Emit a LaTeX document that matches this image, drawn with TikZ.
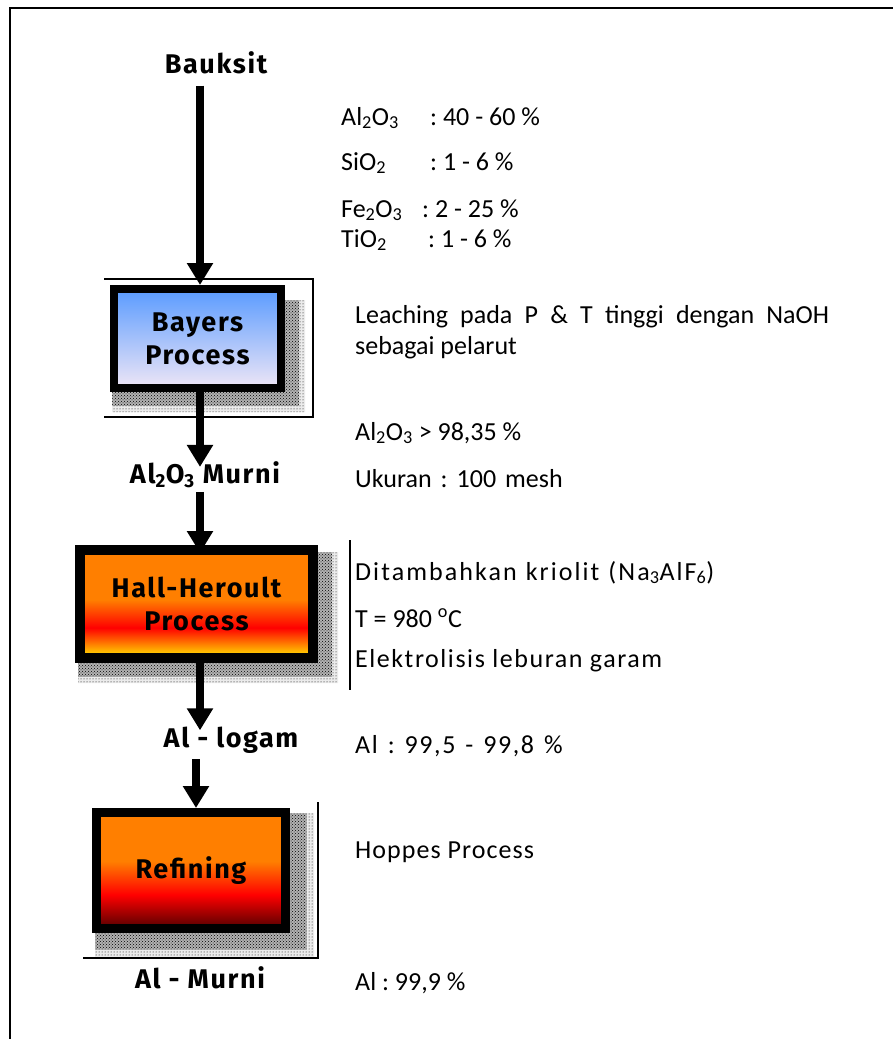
\documentclass[tikz,border=0pt]{standalone}
\usepackage{fontspec}
\setmainfont{Carlito}
\newfontfamily\cwA{Carlito}[LetterSpace=8]
\newfontfamily\cwB{Carlito}[LetterSpace=6]
\newfontfamily\cwC{Carlito}[LetterSpace=4]
\newfontfamily\labf{Fira Sans}[LetterSpace=6]
\usetikzlibrary{arrows.meta,patterns}
\frenchspacing
\definecolor{orng}{HTML}{FF7F00}
\definecolor{bluetop}{HTML}{5A9BFF}
\definecolor{bluebot}{HTML}{EEE6F6}
\definecolor{ylw}{HTML}{FFCC00}
\definecolor{dred}{HTML}{6A0000}
\pgfdeclareverticalshading{hallshade}{100bp}{color(0bp)=(ylw); color(27bp)=(ylw); color(39bp)=(red); color(52bp)=(orng); color(100bp)=(orng)}
\pgfdeclareverticalshading{refshade}{100bp}{color(0bp)=(dred); color(27bp)=(dred); color(39.5bp)=(red); color(54bp)=(orng); color(100bp)=(orng)}
\newcommand\mkshadow[5]{%
  \fill[black!30] (#1,#2) rectangle ({#3+#5*0.7},{#4+#5*0.7});
  \fill[pattern=crosshatch dots, pattern color=black] (#1,#2) rectangle ({#3+#5*0.7},{#4+#5*0.7});
  \fill[black!8, even odd rule] (#1,#2) rectangle ({#3+#5},{#4+#5}) (#1,#2) rectangle ({#3+#5*0.7},{#4+#5*0.7});
  \fill[pattern=dots, pattern color=black, even odd rule] (#1,#2) rectangle ({#3+#5},{#4+#5}) (#1,#2) rectangle ({#3+#5*0.7},{#4+#5*0.7});
}
\tikzset{
  lbl/.style={anchor=base, inner sep=0pt, font=\labf\bfseries\fontsize{27}{30}\selectfont},
  txt/.style={anchor=base west, inner sep=0pt, font=\fontsize{26}{30}\selectfont},
  procbox/.style={draw=black, align=center, font=\labf\bfseries\fontsize{27}{33}\selectfont},
  arr/.style={line width=8pt, -{Triangle[width=25pt,length=22pt]}},
  thin/.style={line width=1.2pt}
}
\begin{document}
\begin{tikzpicture}[x=1pt,y=-1pt]
\useasboundingbox (0,0) rectangle (893,1039);
\draw[line width=1.5pt] (10,1039) -- (10,8) -- (893,8);
\coordinate (ax) at (200,0);
\coordinate (bx) at (196,0);
% shadows
\mkshadow{112}{300}{285}{392}{20}
\mkshadow{78}{552}{318}{663}{20}
\mkshadow{95}{813}{290}{933}{24}
% thin frames
\draw[thin] (104,279) -- (313,279) -- (313,417) -- (104,417);
\draw[thin] (350,540) -- (350,690);
\draw[thin] (318,802) -- (318,958) -- (83,958);
% boxes
\node[procbox, line width=8pt, minimum width=167pt, minimum height=99pt, top color=bluetop, bottom color=bluebot] (bayers) at (197.5,338.5) {Bayers\\Process};
\node[procbox, line width=10pt, minimum width=233pt, minimum height=108pt, shading=hallshade] (hall) at (196.5,604) {Hall-Heroult\\Process};
\node[procbox, line width=9pt, minimum width=189pt, minimum height=116pt, shading=refshade] (refining) at (191,870.5) {Refining};
% labels
\node[lbl] (bauksit) at (216,73) {Bauksit};
\node[lbl] (murni) at (205,483) {Al\textsubscript{2}O\textsubscript{3} Murni};
\node[lbl] (logam) at (231,747) {Al - logam};
\node[lbl] (almurni) at (200,988) {Al - Murni};
% arrows
\draw[arr, shorten <=12pt] (ax |- bauksit.south) -- (ax |- bayers.north);
\draw[arr] (ax |- bayers.south) -- ([yshift=-6pt]ax |- murni.north);
\draw[arr, shorten <=4pt] (ax |- murni.south) -- ([yshift=-8pt]ax |- hall.north);
\draw[arr] (ax |- hall.south) -- ([yshift=-4pt]ax |- logam.north);
\draw[arr, shorten <=6pt] (bx |- logam.south) -- (bx |- refining.north);
% right texts
\node[txt] (t1) at (341,125) {\makebox[89pt][l]{Al\textsubscript{2}O\textsubscript{3}}: 40 - 60 \%};
\node[txt] (t2) at (341,170) {\makebox[89pt][l]{SiO\textsubscript{2}}: 1 - 6 \%};
\node[txt] (t3) at (341,217) {\makebox[81pt][l]{Fe\textsubscript{2}O\textsubscript{3}}: 2 - 25 \%};
\node[txt] (t4) at (341,247) {\makebox[87pt][l]{TiO\textsubscript{2}}: 1 - 6 \%};
\node[txt] (t5) at (355,323) {\spaceskip=12.2pt\relax Leaching pada P \& T tinggi dengan NaOH};
\node[txt] (t6) at (355,354) {sebagai pelarut};
\node[txt] (t7) at (355,440) {Al\textsubscript{2}O\textsubscript{3} > 98,35 \%};
\node[txt] (t8) at (355,487) {\spaceskip=9pt\relax Ukuran : 100 mesh};
\node[txt] (t9) at (355,580) {\cwA\spaceskip=9pt\relax Ditambahkan kriolit (Na\textsubscript{3}AlF\textsubscript{6})};
\node[txt] (t10) at (355,627) {T = 980 \textsuperscript{o}C};
\node[txt] (t11) at (355,667) {\cwB Elektrolisis leburan garam};
\node[txt] (t12) at (355,753) {\cwB\spaceskip=10pt\relax Al : 99,5 - 99,8 \%};
\node[txt] (t13) at (355,858) {\cwC Hoppes Process};
\node[txt] (t14) at (355,990) {Al : 99,9 \%};
\end{tikzpicture}
\end{document}
